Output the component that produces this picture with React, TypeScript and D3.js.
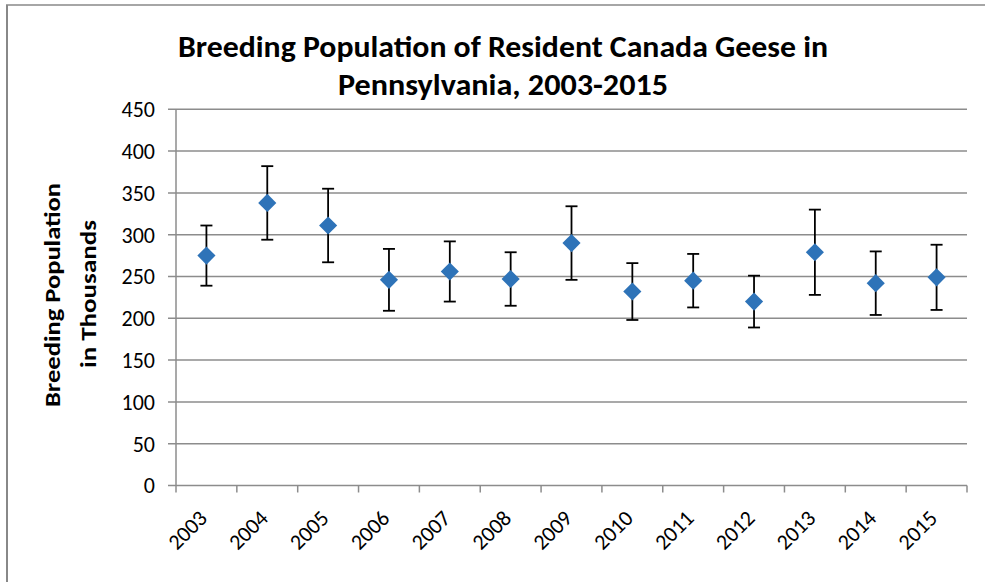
import { useEffect, useRef } from "react";
import * as d3 from "d3";

const years = ["2003", "2004", "2005", "2006", "2007", "2008", "2009", "2010", "2011", "2012", "2013", "2014", "2015"];
const population = [275, 338, 311, 246, 256, 247, 290, 232, 245, 220, 279, 242, 249];
const errorMargin = [36, 44, 44, 37, 36, 32, 44, 34, 32, 31, 51, 38, 39];
const yTicks = [0, 50, 100, 150, 200, 250, 300, 350, 400, 450];

const FONT = "Carlito, Lato, 'Open Sans', sans-serif";

const App = () => {
  const ref = useRef<SVGSVGElement>(null);

  useEffect(() => {
    if (!ref.current) return;
    const width = 985;
    const height = 582;
    const margin = { top: 109.3, right: 18, bottom: 96.5, left: 176 };

    const svg = d3.select(ref.current);
    svg.selectAll("*").remove();
    svg.attr("width", width).attr("height", height);

    svg.append("rect").attr("width", width).attr("height", height).attr("fill", "#fff");
    // chart border (left and top visible)
    svg.append("line").attr("x1", 7).attr("x2", 7).attr("y1", 5).attr("y2", height).attr("stroke", "#888").attr("stroke-width", 2);
    svg.append("line").attr("x1", 6).attr("x2", width).attr("y1", 5).attr("y2", 5).attr("stroke", "#888").attr("stroke-width", 1.5);

    const x = d3.scaleBand().domain(years).range([margin.left, width - margin.right]);
    const y = d3.scaleLinear().domain([0, 450]).range([height - margin.bottom, margin.top]);

    // gridlines
    svg.append("g")
      .selectAll("line")
      .data(yTicks)
      .join("line")
      .attr("x1", margin.left - 8)
      .attr("x2", width - margin.right)
      .attr("y1", d => y(d))
      .attr("y2", d => y(d))
      .attr("stroke", "#8c8c8c")
      .attr("stroke-width", 1.5);

    // y axis
    svg.append("line")
      .attr("x1", margin.left).attr("x2", margin.left)
      .attr("y1", y(450)).attr("y2", y(0))
      .attr("stroke", "#8c8c8c").attr("stroke-width", 1.5);

    svg.append("g")
      .selectAll("text")
      .data(yTicks)
      .join("text")
      .attr("x", 155)
      .attr("y", d => y(d))
      .attr("dy", "0.36em")
      .attr("text-anchor", "end")
      .attr("font-family", FONT)
      .attr("font-size", 22)
      .attr("fill", "#000")
      .text(d => d);

    // x ticks at band edges
    const edges = years.map(d => x(d)!).concat([x(years[years.length - 1])! + x.bandwidth()]);
    svg.append("g")
      .selectAll("line")
      .data(edges)
      .join("line")
      .attr("x1", d => d).attr("x2", d => d)
      .attr("y1", y(0)).attr("y2", y(0) + 7)
      .attr("stroke", "#8c8c8c").attr("stroke-width", 1.5);

    svg.append("g")
      .selectAll("text")
      .data(years)
      .join("text")
      .attr("transform", d => `translate(${x(d)! + x.bandwidth() / 2 + 2},${y(0) + 34}) rotate(-45)`)
      .attr("text-anchor", "end")
      .attr("font-family", FONT)
      .attr("font-size", 22)
      .attr("fill", "#000")
      .text(d => d);

    const cx = (i: number) => x(years[i])! + x.bandwidth() / 2;

    // error bars
    const eb = svg.append("g").attr("stroke", "#000").attr("stroke-width", 1.8);
    population.forEach((v, i) => {
      const hi = y(v + errorMargin[i]);
      const lo = y(v - errorMargin[i]);
      eb.append("line").attr("x1", cx(i)).attr("x2", cx(i)).attr("y1", hi).attr("y2", lo);
      eb.append("line").attr("x1", cx(i) - 6).attr("x2", cx(i) + 6).attr("y1", hi).attr("y2", hi);
      eb.append("line").attr("x1", cx(i) - 6).attr("x2", cx(i) + 6).attr("y1", lo).attr("y2", lo);
    });

    // markers
    const diamond = d3.symbol().type(d3.symbolDiamond2).size(210);
    svg.append("g")
      .selectAll("path")
      .data(population)
      .join("path")
      .attr("transform", (d, i) => `translate(${cx(i)},${y(d)})`)
      .attr("d", diamond)
      .attr("fill", "#2E73B8");

    // title
    const title = svg.append("g")
      .attr("font-family", FONT)
      .attr("font-weight", "bold")
      .attr("font-size", 30)
      .attr("text-anchor", "middle")
      .attr("fill", "#000");
    title.append("text").attr("x", 503).attr("y", 57)
      .attr("textLength", 650).attr("lengthAdjust", "spacingAndGlyphs")
      .text("Breeding Population of Resident Canada Geese in");
    title.append("text").attr("x", 503).attr("y", 95)
      .attr("textLength", 330).attr("lengthAdjust", "spacingAndGlyphs")
      .text("Pennsylvania, 2003-2015");

    // y axis title
    const yTitle = svg.append("g")
      .attr("font-family", FONT)
      .attr("font-weight", "bold")
      .attr("font-size", 23)
      .attr("text-anchor", "middle")
      .attr("fill", "#000");
    yTitle.append("text").attr("transform", "translate(60,295) rotate(-90)")
      .attr("textLength", 224).attr("lengthAdjust", "spacingAndGlyphs")
      .text("Breeding Population");
    yTitle.append("text").attr("transform", "translate(96,294) rotate(-90)")
      .attr("textLength", 148).attr("lengthAdjust", "spacingAndGlyphs")
      .text("in Thousands");
  }, []);

  return <svg ref={ref} style={{ position: "absolute", left: 0, top: 0 }} />;
};

export default App;
